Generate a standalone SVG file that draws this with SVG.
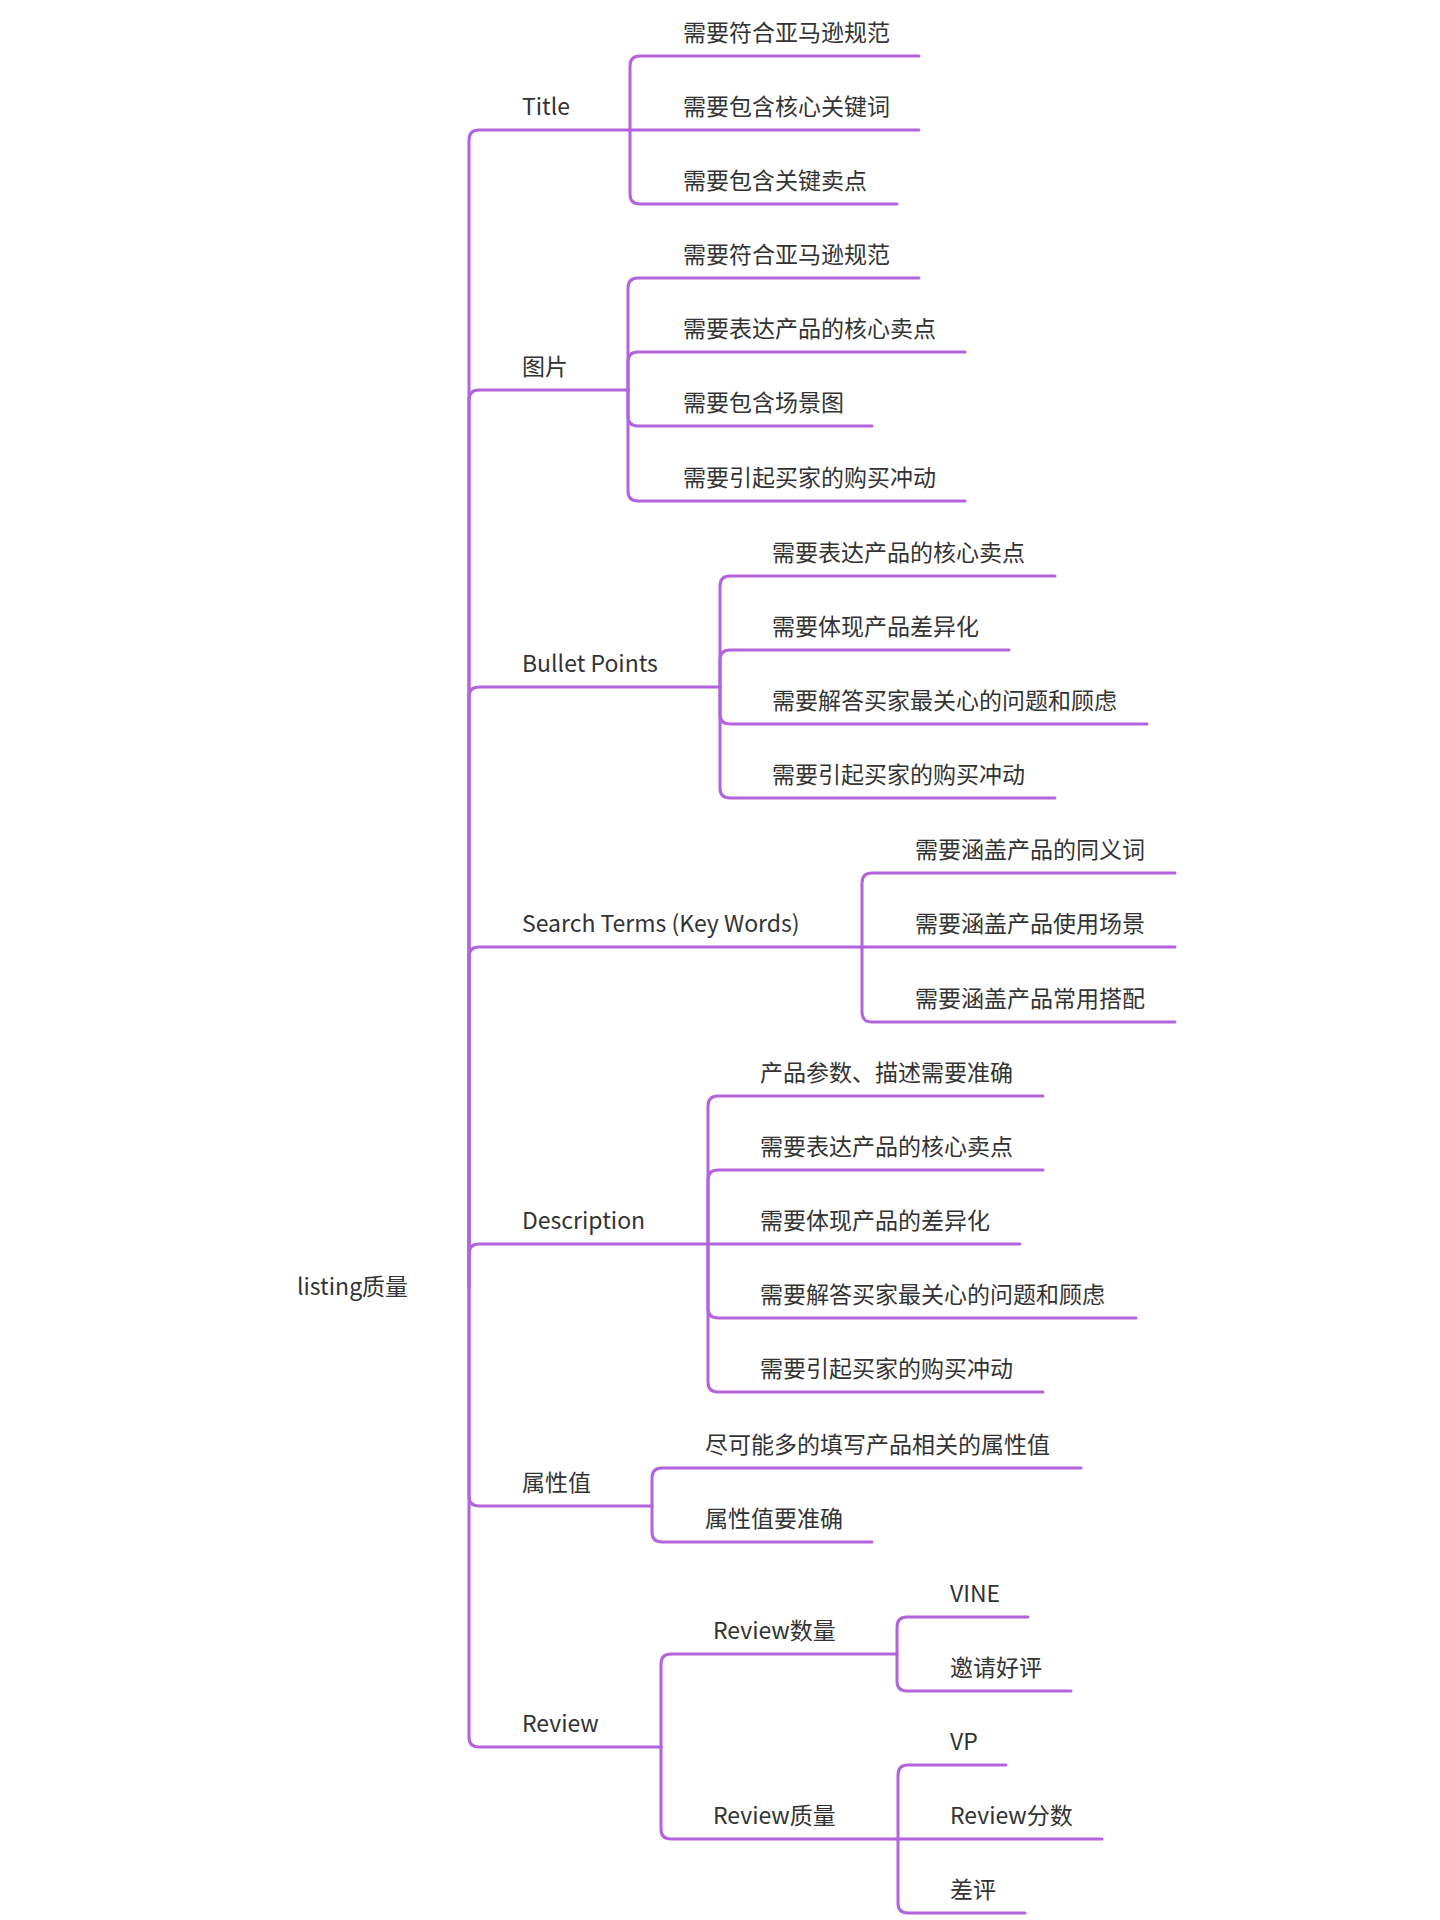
<svg xmlns="http://www.w3.org/2000/svg" width="1440" height="1920" viewBox="0 0 1440 1920">
<style>
.c{fill:none;stroke:#b363dd;stroke-width:3;stroke-linecap:round;stroke-linejoin:round}
text{font-family:"Noto Sans CJK SC","Noto Sans",sans-serif;font-size:23px;fill:#333}
</style>
<rect width="1440" height="1920" fill="#fff"/>
<g id="connectors">
<path class="c" d="M469 1286 V140 Q469 130 479 130 H630"/>
<path class="c" d="M469 1286 V400 Q469 390 479 390 H628"/>
<path class="c" d="M469 1286 V697 Q469 687 479 687 H720"/>
<path class="c" d="M469 1286 V957 Q469 947 479 947 H862"/>
<path class="c" d="M469 1286 V1254 Q469 1244 479 1244 H708"/>
<path class="c" d="M469 1286 V1496 Q469 1506 479 1506 H652"/>
<path class="c" d="M469 1286 V1737 Q469 1747 479 1747 H661"/>
<path class="c" d="M630 130 V66 Q630 56 640 56 H919"/>
<path class="c" d="M630 130 H919"/>
<path class="c" d="M630 130 V194 Q630 204 640 204 H897"/>
<path class="c" d="M628 390 V288 Q628 278 638 278 H919"/>
<path class="c" d="M628 390 V362 Q628 352 638 352 H965"/>
<path class="c" d="M628 390 V416 Q628 426 638 426 H872"/>
<path class="c" d="M628 390 V491 Q628 501 638 501 H965"/>
<path class="c" d="M720 687 V586 Q720 576 730 576 H1055"/>
<path class="c" d="M720 687 V660 Q720 650 730 650 H1009"/>
<path class="c" d="M720 687 V714 Q720 724 730 724 H1147"/>
<path class="c" d="M720 687 V788 Q720 798 730 798 H1055"/>
<path class="c" d="M862 947 V883 Q862 873 872 873 H1175"/>
<path class="c" d="M862 947 H1175"/>
<path class="c" d="M862 947 V1012 Q862 1022 872 1022 H1175"/>
<path class="c" d="M708 1244 V1106 Q708 1096 718 1096 H1043"/>
<path class="c" d="M708 1244 V1180 Q708 1170 718 1170 H1043"/>
<path class="c" d="M708 1244 H1020"/>
<path class="c" d="M708 1244 V1308 Q708 1318 718 1318 H1136"/>
<path class="c" d="M708 1244 V1382 Q708 1392 718 1392 H1043"/>
<path class="c" d="M652 1506 V1478 Q652 1468 662 1468 H1081"/>
<path class="c" d="M652 1506 V1532 Q652 1542 662 1542 H872"/>
<path class="c" d="M661 1747 V1664 Q661 1654 671 1654 H897"/>
<path class="c" d="M661 1747 V1829 Q661 1839 671 1839 H898"/>
<path class="c" d="M897 1654 V1627 Q897 1617 907 1617 H1028"/>
<path class="c" d="M897 1654 V1681 Q897 1691 907 1691 H1071"/>
<path class="c" d="M898 1839 V1775 Q898 1765 908 1765 H1006"/>
<path class="c" d="M898 1839 H1102"/>
<path class="c" d="M898 1839 V1903 Q898 1913 908 1913 H1025"/>
</g>
<g id="root"><text x="297" y="1295">listing质量</text></g>
<g id="n-title"><text x="522" y="115">Title</text></g>
<g id="n-title-1"><text x="683" y="41">需要符合亚马逊规范</text></g>
<g id="n-title-2"><text x="683" y="115">需要包含核心关键词</text></g>
<g id="n-title-3"><text x="683" y="189">需要包含关键卖点</text></g>
<g id="n-img"><text x="522" y="375">图片</text></g>
<g id="n-img-1"><text x="683" y="263">需要符合亚马逊规范</text></g>
<g id="n-img-2"><text x="683" y="337">需要表达产品的核心卖点</text></g>
<g id="n-img-3"><text x="683" y="411">需要包含场景图</text></g>
<g id="n-img-4"><text x="683" y="486">需要引起买家的购买冲动</text></g>
<g id="n-bp"><text x="522" y="672">Bullet Points</text></g>
<g id="n-bp-1"><text x="772" y="561">需要表达产品的核心卖点</text></g>
<g id="n-bp-2"><text x="772" y="635">需要体现产品差异化</text></g>
<g id="n-bp-3"><text x="772" y="709">需要解答买家最关心的问题和顾虑</text></g>
<g id="n-bp-4"><text x="772" y="783">需要引起买家的购买冲动</text></g>
<g id="n-st"><text x="522" y="932">Search Terms (Key Words)</text></g>
<g id="n-st-1"><text x="915" y="858">需要涵盖产品的同义词</text></g>
<g id="n-st-2"><text x="915" y="932">需要涵盖产品使用场景</text></g>
<g id="n-st-3"><text x="915" y="1007">需要涵盖产品常用搭配</text></g>
<g id="n-desc"><text x="522" y="1229">Description</text></g>
<g id="n-desc-1"><text x="760" y="1081">产品参数、描述需要准确</text></g>
<g id="n-desc-2"><text x="760" y="1155">需要表达产品的核心卖点</text></g>
<g id="n-desc-3"><text x="760" y="1229">需要体现产品的差异化</text></g>
<g id="n-desc-4"><text x="760" y="1303">需要解答买家最关心的问题和顾虑</text></g>
<g id="n-desc-5"><text x="760" y="1377">需要引起买家的购买冲动</text></g>
<g id="n-attr"><text x="522" y="1491">属性值</text></g>
<g id="n-attr-1"><text x="705" y="1453">尽可能多的填写产品相关的属性值</text></g>
<g id="n-attr-2"><text x="705" y="1527">属性值要准确</text></g>
<g id="n-review"><text x="522" y="1732">Review</text></g>
<g id="n-rq"><text x="713" y="1639">Review数量</text></g>
<g id="n-rq-1"><text x="950" y="1602">VINE</text></g>
<g id="n-rq-2"><text x="950" y="1676">邀请好评</text></g>
<g id="n-rql"><text x="713" y="1824">Review质量</text></g>
<g id="n-rql-1"><text x="950" y="1750">VP</text></g>
<g id="n-rql-2"><text x="950" y="1824">Review分数</text></g>
<g id="n-rql-3"><text x="950" y="1898">差评</text></g>
</svg>
